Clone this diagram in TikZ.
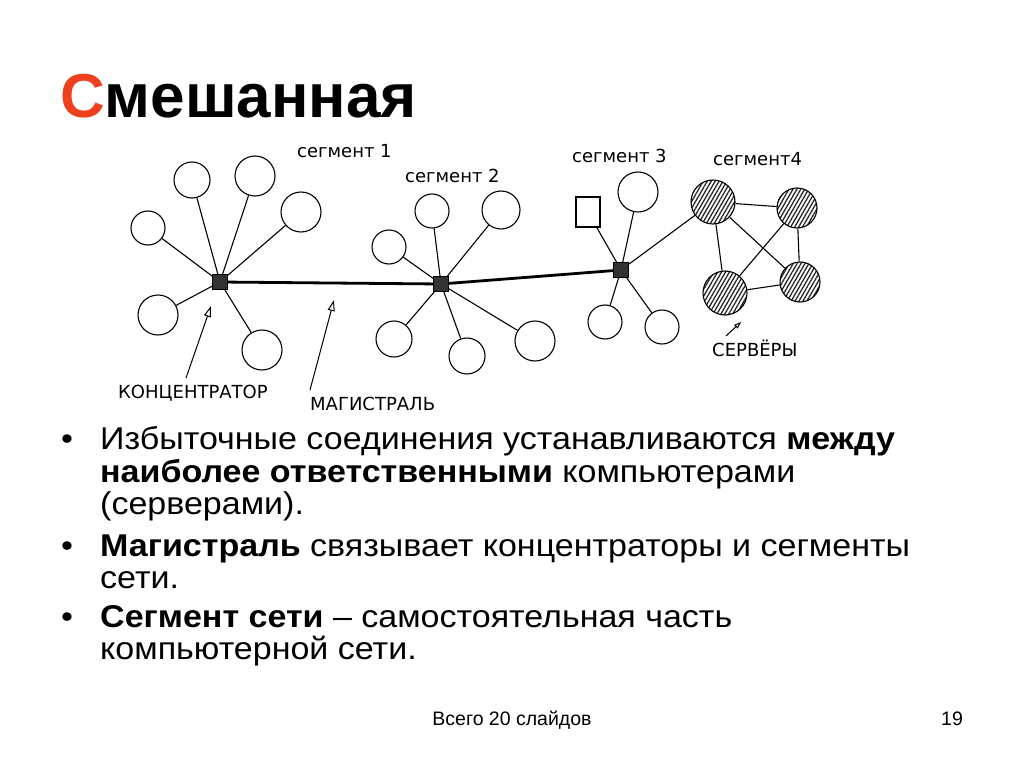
\documentclass[tikz,border=0pt]{standalone}
\usepackage{fontspec}
\setmainfont{Liberation Sans}
\newfontfamily\bodyfont{Liberation Sans}[FakeStretch=1.08]
\newfontfamily\handfont{DejaVu Sans}
\usetikzlibrary{patterns.meta,arrows.meta}
\definecolor{titlered}{RGB}{238,64,30}

\tikzset{
  pc/.style={circle,draw,line width=1.1pt,minimum size=38pt,inner sep=0pt},
  hub/.style={rectangle,draw,line width=1pt,fill=black!80,minimum size=15pt,inner sep=0pt},
  server/.style={circle,draw,line width=1.1pt,minimum size=44pt,inner sep=0pt,
    pattern={Lines[angle=60,distance=3.4pt,line width=1.3pt]},pattern color=black!85},
  wire/.style={line width=1.1pt},
  backbone/.style={line width=2.8pt},
  seglabel/.style={font=\handfont\fontsize{18}{20}\selectfont,anchor=base west,inner sep=0pt},
  pointer/.style={line width=1pt,-{Triangle[open,length=11pt,width=7pt,line width=1pt]}},
  body/.style={font=\bodyfont\fontsize{31.5}{33}\selectfont,anchor=base west,inner sep=0pt},
}

\begin{document}
\begin{tikzpicture}[x=1pt,y=-1pt]
\useasboundingbox (0,0) rectangle (1024,767);

% title
\node[anchor=base west,inner sep=0pt,font=\bfseries\fontsize{62}{68}\selectfont] (title) at (60,118)
  {\textcolor{titlered}{С}мешанная};

% hubs
\node[hub] (h1) at (220,282) {};
\node[hub] (h2) at (441,284) {};
\node[hub] (h3) at (621,270) {};

% segment 1
\node[pc,minimum size=36pt] (a1) at (192,180) {};
\node[pc,minimum size=40pt] (a2) at (255,176) {};
\node[pc,minimum size=40pt] (a3) at (301,212) {};
\node[pc,minimum size=34pt] (a4) at (148,228) {};
\node[pc,minimum size=40pt] (a5) at (158,315) {};
\node[pc,minimum size=40pt] (a6) at (262,350) {};
\foreach \n in {a1,a2,a3,a4,a5,a6}
  \draw[wire] (\n) -- (h1);

% segment 2
\node[pc,minimum size=34pt] (b1) at (432,211) {};
\node[pc,minimum size=38pt] (b2) at (501,210) {};
\node[pc,minimum size=34pt] (b3) at (389,247) {};
\node[pc,minimum size=36pt] (b4) at (394,339) {};
\node[pc,minimum size=36pt] (b5) at (467,356) {};
\node[pc,minimum size=40pt] (b6) at (535,341) {};
\foreach \n in {b1,b2,b3,b4,b5,b6}
  \draw[wire] (\n) -- (h2);

% segment 3
\node[draw,line width=1.1pt,minimum width=24pt,minimum height=30pt,inner sep=0pt] (c1) at (588,212) {};
\node[pc,minimum size=40pt] (c2) at (638,192) {};
\node[pc,minimum size=34pt] (c3) at (605,322) {};
\node[pc,minimum size=34pt] (c4) at (662,327) {};
\foreach \n in {c1,c2,c3,c4}
  \draw[wire] (\n) -- (h3);

% segment 4, servers
\node[server] (s1) at (713,202) {};
\node[server,minimum size=40pt] (s2) at (797,208) {};
\node[server] (s3) at (725,293) {};
\node[server,minimum size=40pt] (s4) at (800,282) {};
\draw[wire] (s1) -- (s2) (s1) -- (s3) (s1) -- (s4)
            (s2) -- (s3) (s2) -- (s4) (s3) -- (s4);
\draw[wire] (h3) -- (s1);

% backbone
\draw[backbone] (h1) -- (h2) -- (h3);

% labels
\node[seglabel] (l1) at (297,158) {сегмент 1};
\node[seglabel] (l2) at (405,183) {сегмент 2};
\node[seglabel] (l3) at (572,163) {сегмент 3};
\node[seglabel] (l4) at (713,166) {сегмент4};
\node[seglabel] (lsrv) at (712,356) {СЕРВЁРЫ};
\node[seglabel] (lkon) at (118,398) {КОНЦЕНТРАТОР};
\node[seglabel] (lmag) at (310,410) {МАГИСТРАЛЬ};

\coordinate (kontail) at (186,378);
\coordinate (kontip) at (211,306);
\coordinate (magtail) at (310,390);
\coordinate (magtip) at (334,300);
\coordinate (srvtail) at (726,336);
\coordinate (srvtip) at (741,322);
\draw[pointer] (kontail) -- (kontip);
\draw[pointer] (magtail) -- (magtip);
\draw[line width=1pt,-{Triangle[open,length=7pt,width=5pt,line width=1pt]}] (srvtail) -- (srvtip);

% bullets
\foreach \y in {449,556,627}
  \node[body,anchor=base] at (67,\y) {•};
\node[body] (t1) at (100,449) {Избыточные соединения устанавливаются \textbf{между}};
\node[body] (t2) at (100,482) {\textbf{наиболее ответственными} компьютерами};
\node[body] (t3) at (100,514) {(серверами).};
\node[body] (t4) at (100,556) {\textbf{Магистраль} связывает концентраторы и сегменты};
\node[body] (t5) at (100,588) {сети.};
\node[body] (t6) at (100,627) {\textbf{Сегмент сети} – самостоятельная часть};
\node[body] (t7) at (100,659) {компьютерной сети.};

% footer
\node[anchor=base,inner sep=0pt,font=\fontsize{19.5}{22}\selectfont] (foot) at (512,725) {Всего 20 слайдов};
\node[anchor=base,inner sep=0pt,font=\fontsize{19.5}{22}\selectfont] (page) at (952,725) {19};
\end{tikzpicture}
\end{document}
